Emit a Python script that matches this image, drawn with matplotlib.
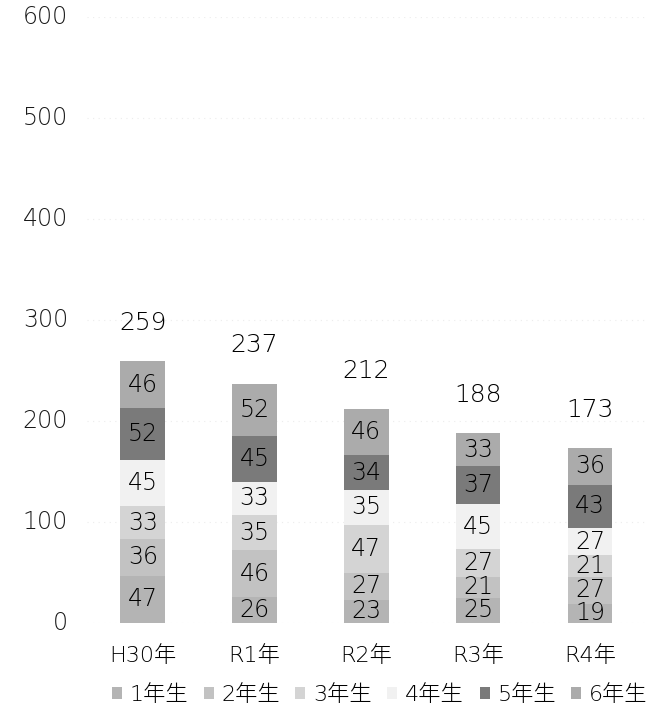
import matplotlib.pyplot as plt
from matplotlib.patches import Patch

plt.rcParams['font.family'] = ['DejaVu Sans', 'Noto Sans CJK JP']

years = ['H30年', 'R1年', 'R2年', 'R3年', 'R4年']
grades = ['1年生', '2年生', '3年生', '4年生', '5年生', '6年生']

# counts per grade (bottom to top), one value per year
g1 = [47, 26, 23, 25, 19]
g2 = [36, 46, 27, 21, 27]
g3 = [33, 35, 47, 27, 21]
g4 = [45, 33, 35, 45, 27]
g5 = [52, 45, 34, 37, 43]
g6 = [46, 52, 46, 33, 36]
series = [g1, g2, g3, g4, g5, g6]
totals = [sum(v) for v in zip(*series)]

colors = ['#b4b4b4', '#c2c2c2', '#d4d4d4', '#f1f1f1', '#7a7a7a', '#ababab']
txt = '#000000'

fig = plt.figure(figsize=(6.49, 7.23), dpi=100)
ax = fig.add_axes([0.134, 0.1383, 0.861, 0.838])

x = range(len(years))
bottom = [0] * len(years)
for vals, col in zip(series, colors):
    ax.bar(x, vals, 0.4, bottom=bottom, color=col, edgecolor='none', zorder=2)
    for i, v in enumerate(vals):
        ax.text(i, bottom[i] + v / 2, str(v), ha='center', va='center',
                fontsize=17, fontweight='light', color=txt, zorder=3)
    bottom = [b + v for b, v in zip(bottom, vals)]

for i, t in enumerate(totals):
    ax.text(i, t + 38, str(t), ha='center', va='center', fontsize=18,
            fontweight='light', color=txt)

ax.set_xlim(-0.5, 4.5)
ax.set_ylim(0, 600)
ax.set_yticks(range(0, 601, 100))
ax.set_xticks(list(x))
ax.set_xticklabels(years, fontsize=16, fontweight='light', color=txt)
ax.tick_params(axis='x', length=0, pad=16)
ax.tick_params(axis='y', length=0, pad=0)
ax.set_yticklabels([])
for v in range(0, 601, 100):
    ax.text(-0.67, v, str(v), ha='right', va='center', fontsize=17,
            fontweight='light', color='#1a1a1a', clip_on=False)
ax.grid(axis='y', color='#ececec', linestyle=(0, (1, 4)), linewidth=0.8, zorder=0)
for s in ax.spines.values():
    s.set_visible(False)

handles = [Patch(facecolor=c, edgecolor='none') for c in colors]
fig.legend(handles, grades, loc='center', bbox_to_anchor=(0.585, 0.039), ncol=6,
           frameon=False, prop={'size': 16, 'weight': 'light'},
           handlelength=0.45, handleheight=0.45, handletextpad=0.35, columnspacing=0.7)

fig.savefig('out.png', dpi=100)
